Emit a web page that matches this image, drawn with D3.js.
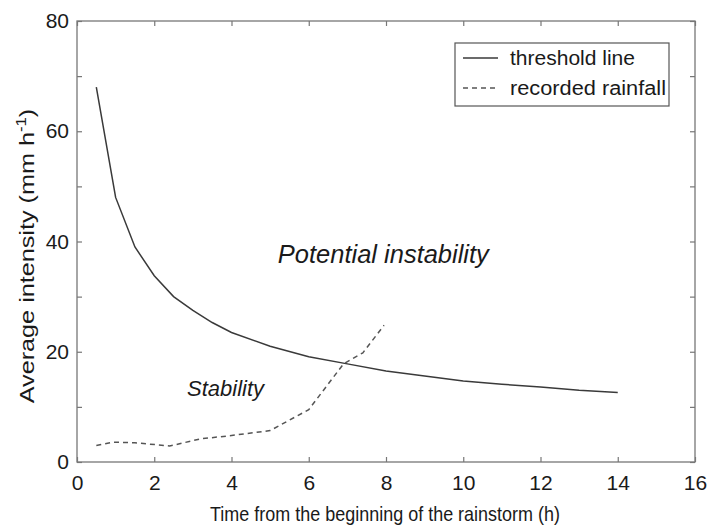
<!DOCTYPE html>
<html><head><meta charset="utf-8">
<script src="https://cdn.jsdelivr.net/npm/d3@7"></script>
<style>body{margin:0;background:#fff}text{font-family:"Liberation Sans",Arial,sans-serif}</style>
</head><body><svg id="c" width="708" height="528"></svg>
<script>
const thresholdX = [0.5,1,1.5,2,2.5,3,3.5,4,5,6,7,8,9,10,11,12,13,14];
const thresholdY = [68,48,39,33.8,30,27.5,25.3,23.5,21,19.1,17.8,16.5,15.6,14.7,14.1,13.6,13,12.6];
const rainX = [0.5,0.95,1.5,2.4,3.2,4,5,6,6.9,7.4,7.95];
const rainY = [3,3.6,3.5,2.9,4.2,4.8,5.7,9.5,17.8,19.8,24.8];
const xTicks = [0,2,4,6,8,10,12,14,16];
const yTicks = [0,10,20,30,40,50,60,70,80];
const yLabels = [0,20,40,60,80];

const svg = d3.select("#c");
const L=77,R=695,T=21,B=462;
const x = d3.scaleLinear().domain([0,16]).range([L,R]);
const y = d3.scaleLinear().domain([0,80]).range([B,T]);
const axisCol="#777", textCol="#1a1a1a";

svg.append("rect").attr("x",L).attr("y",T).attr("width",R-L).attr("height",B-T)
  .attr("fill","none").attr("stroke",axisCol).attr("stroke-width",1.3);

const tl=5;
const gxb = svg.append("g").attr("transform",`translate(0,${B})`)
  .call(d3.axisBottom(x).tickValues(xTicks).tickSizeInner(-tl).tickSizeOuter(0).tickPadding(13).tickFormat(d3.format("d")));
const gxt = svg.append("g").attr("transform",`translate(0,${T})`)
  .call(d3.axisTop(x).tickValues(xTicks).tickSizeInner(-tl).tickSizeOuter(0).tickFormat(""));
const gyl = svg.append("g").attr("transform",`translate(${L},0)`)
  .call(d3.axisLeft(y).tickValues(yTicks).tickSizeInner(-tl).tickSizeOuter(0).tickPadding(8)
    .tickFormat(d=>yLabels.includes(d)?d:""));
const gyr = svg.append("g").attr("transform",`translate(${R},0)`)
  .call(d3.axisRight(y).tickValues(yTicks).tickSizeInner(-tl).tickSizeOuter(0).tickFormat(""));
[gxb,gxt,gyl,gyr].forEach(g=>{
  g.select(".domain").remove();
  g.selectAll(".tick line").attr("stroke",axisCol).attr("stroke-width",1.2);
  g.selectAll(".tick text").attr("fill",textCol).style("font-size","21px");
});

const line = d3.line().x(d=>x(d[0])).y(d=>y(d[1]));
svg.append("path").datum(thresholdX.map((v,i)=>[v,thresholdY[i]])).attr("d",line)
  .attr("fill","none").attr("stroke","#3a3a3a").attr("stroke-width",1.5);
svg.append("path").datum(rainX.map((v,i)=>[v,rainY[i]])).attr("d",line)
  .attr("fill","none").attr("stroke","#555").attr("stroke-width",1.5).attr("stroke-dasharray","5,4");

svg.append("text").attr("x",x(5.2)).attr("y",y(36.1))
  .attr("font-style","italic").style("font-size","26px").attr("fill",textCol)
  .attr("textLength",211).attr("lengthAdjust","spacingAndGlyphs").text("Potential instability");
svg.append("text").attr("x",x(2.85)).attr("y",y(12.0))
  .attr("font-style","italic").style("font-size","22px").attr("fill",textCol)
  .attr("textLength",77).attr("lengthAdjust","spacingAndGlyphs").text("Stability");

svg.append("text").attr("x",385).attr("y",521).attr("text-anchor","middle")
  .style("font-size","21px").attr("fill",textCol)
  .attr("textLength",350).attr("lengthAdjust","spacingAndGlyphs")
  .text("Time from the beginning of the rainstorm (h)");
const yt = svg.append("text").attr("transform",`translate(34,256) rotate(-90) scale(1.2,1)`).attr("text-anchor","middle")
  .style("font-size","21px").attr("fill",textCol);
yt.append("tspan").text("Average intensity (mm h");
yt.append("tspan").attr("dy","-8").style("font-size","14px").text("-1");
yt.append("tspan").attr("dy","8").text(")");

const lg = svg.append("g");
lg.append("rect").attr("x",455).attr("y",43).attr("width",214).attr("height",63)
  .attr("fill","#fff").attr("stroke","#555").attr("stroke-width",1.2);
const items=[{name:"threshold line",dash:null,col:"#3a3a3a",w:125},{name:"recorded rainfall",dash:"5,4",col:"#555",w:156}];
items.forEach((it,i)=>{
  const yy=58+i*30;
  lg.append("line").attr("x1",463).attr("x2",498).attr("y1",yy).attr("y2",yy)
    .attr("stroke",it.col).attr("stroke-width",1.5).attr("stroke-dasharray",it.dash);
  lg.append("text").attr("x",510).attr("y",yy+7).style("font-size","20px").attr("fill",textCol)
    .attr("textLength",it.w).attr("lengthAdjust","spacingAndGlyphs").text(it.name);
});
</script></body></html>
